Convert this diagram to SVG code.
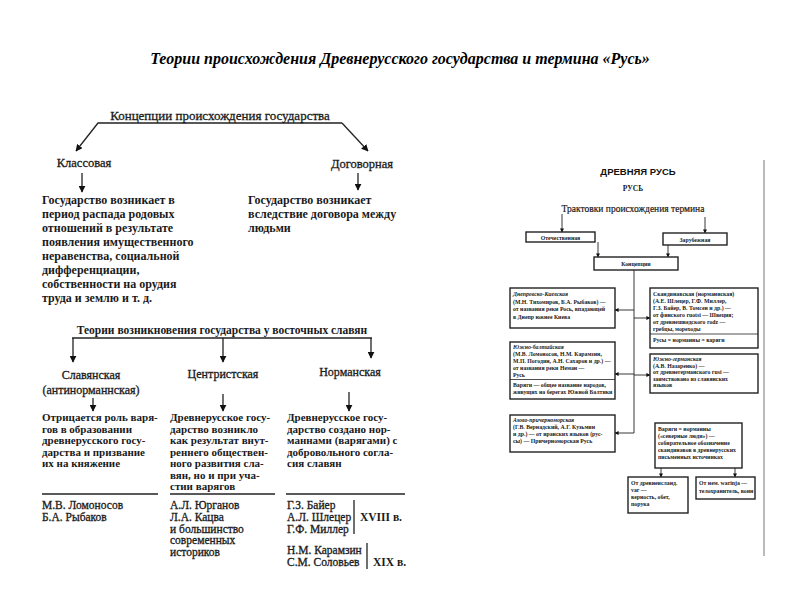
<svg xmlns="http://www.w3.org/2000/svg" width="800" height="600" viewBox="0 0 800 600">
<defs>
<marker id="ah" viewBox="0 0 10 10" refX="9" refY="5" markerWidth="7" markerHeight="7" orient="auto" markerUnits="userSpaceOnUse"><path d="M0,0 L10,5 L0,10 z" fill="#111"/></marker>
<marker id="ahs" viewBox="0 0 10 10" refX="9" refY="5" markerWidth="4" markerHeight="4" orient="auto" markerUnits="userSpaceOnUse"><path d="M0,0 L10,5 L0,10 z" fill="#111"/></marker>
<style>
.t{font-family:"Liberation Serif","DejaVu Serif",serif;fill:#1a1a1a}
.title{font-size:16px;font-weight:bold;font-style:italic;text-anchor:middle;fill:#000}
.h1{font-size:13px;stroke:#1a1a1a;stroke-width:0.3}
.h2{font-size:12.5px;stroke:#1a1a1a;stroke-width:0.3}
.b12{font-size:12px;font-weight:bold}
.b11{font-size:11px;font-weight:bold}
.r12{font-size:11.5px;stroke:#1a1a1a;stroke-width:0.3}
.c{text-anchor:middle}
.ln{stroke:#222;stroke-width:1.3;fill:none}
.lnA{stroke:#222;stroke-width:1.3;fill:none;marker-end:url(#ah)}
.bx{fill:#fff;stroke:#222;stroke-width:1.4}
.s{font-size:5.8px;font-weight:bold}
.si{font-size:5.8px;font-weight:bold;font-style:italic}
.lnS{stroke:#222;stroke-width:0.9;fill:none;marker-end:url(#ahs)}
.sans{font-family:"Liberation Sans",Arial,sans-serif;font-weight:bold;fill:#111}
</style>
</defs>
<rect width="800" height="600" fill="#fff"/>
<text class="t title" x="400" y="64">Теории происхождения Древнерусского государства и термина «Русь»</text>

<g id="connectors">
<path class="lnA" d="M342,123 L98,123 L76,151"/>
<path class="lnA" d="M342,123 L368,151"/>
<path class="lnA" d="M82,173 L82,192"/>
<path class="lnA" d="M358,173 L358,190"/>
<path class="ln" d="M72,338 L372,338"/>
<path class="lnA" d="M73,338 L73,362"/>
<path class="lnA" d="M223,338 L223,362"/>
<path class="lnA" d="M371,338 L371,358"/>
<path class="lnA" d="M93,398 L93,411"/>
<path class="lnA" d="M223,394 L223,411"/>
<path class="lnA" d="M349,392 L349,411"/>
<path class="lnS" d="M562,214 L562,232"/>
<path class="lnS" d="M705,217 L705,233"/>
<path class="lnS" d="M598,242 L598,257"/>
<path class="lnS" d="M668,245 L668,257"/>
<path class="ln" style="stroke-width:0.9" d="M634,270 L634,433"/>
<path class="lnS" d="M634,310 L615,310"/>
<path class="lnS" d="M634,374 L615,374"/>
<path class="lnS" d="M634,433 L615,433"/>
<path class="lnS" d="M634,318 L650,318"/>
<path class="lnS" d="M634,375 L650,375"/>
<path class="lnS" d="M661,468 L661,477"/>
<path class="lnS" d="M735,468 L735,477"/>
</g>

<g id="concepts">
<text class="t h1" x="220" y="120" text-anchor="middle">Концепции происхождения государства</text>
</g>
<g id="klass">
<text class="t h2" x="84" y="167" text-anchor="middle">Классовая</text>
<text class="t b12" x="42"><tspan x="42" y="204">Государство возникает в</tspan><tspan x="42" y="218">период распада родовых</tspan><tspan x="42" y="232">отношений в результате</tspan><tspan x="42" y="246">появления имущественного</tspan><tspan x="42" y="260">неравенства, социальной</tspan><tspan x="42" y="274">дифференциации,</tspan><tspan x="42" y="288">собственности на орудия</tspan><tspan x="42" y="302">труда и землю и т. д.</tspan></text>
</g>
<g id="dogovor">
<text class="t h2" x="362" y="168" text-anchor="middle">Договорная</text>
<text class="t b12"><tspan x="248" y="204">Государство возникает</tspan><tspan x="248" y="218">вследствие договора между</tspan><tspan x="248" y="232">людьми</tspan></text>
</g>

<g id="theories">
<text class="t b11" x="222" y="334" text-anchor="middle" style="font-size:11.5px">Теории возникновения государства у восточных славян</text>
</g>
<g id="slav">
<text class="t h2 c" x="91" y="379" style="font-size:12px">Славянская</text>
<text class="t h2 c" x="91" y="394" style="font-size:12px">(антинорманнская)</text>
<text class="t b11"><tspan x="42" y="421">Отрицается роль варя-</tspan><tspan x="42" y="432.5">гов в образовании</tspan><tspan x="42" y="444">древнерусского госу-</tspan><tspan x="42" y="455.5">дарства и призвание</tspan><tspan x="42" y="467">их на княжение</tspan></text>
<path class="ln" d="M42,494 L158,494"/>
<text class="t r12"><tspan x="42" y="509">М.В. Ломоносов</tspan><tspan x="42" y="521">Б.А. Рыбаков</tspan></text>
</g>
<g id="centr">
<text class="t h2 c" x="223" y="378" style="font-size:12px">Центристская</text>
<text class="t b11"><tspan x="170" y="421">Древнерусское госу-</tspan><tspan x="170" y="432.5">дарство возникло</tspan><tspan x="170" y="444">как результат внут-</tspan><tspan x="170" y="455.5">реннего обществен-</tspan><tspan x="170" y="467">ного развития сла-</tspan><tspan x="170" y="478.5">вян, но и при уча-</tspan><tspan x="170" y="490">стии варягов</tspan></text>
<path class="ln" d="M170,494 L275,494"/>
<text class="t r12"><tspan x="170" y="509">А.Л. Юрганов</tspan><tspan x="170" y="521">Л.А. Кацва</tspan><tspan x="170" y="532.5">и большинство</tspan><tspan x="170" y="544">современных</tspan><tspan x="170" y="555.5">историков</tspan></text>
</g>
<g id="norm">
<text class="t h2 c" x="350" y="376" style="font-size:12px">Норманская</text>
<text class="t b11"><tspan x="287" y="421">Древнерусское госу-</tspan><tspan x="287" y="432.5">дарство создано нор-</tspan><tspan x="287" y="444">маннами (варягами) с</tspan><tspan x="287" y="455.5">добровольного согла-</tspan><tspan x="287" y="467">сия славян</tspan></text>
<path class="ln" d="M286,494 L405,494"/>
<text class="t r12"><tspan x="287" y="509">Г.З. Байер</tspan><tspan x="287" y="521">А.Л. Шлецер</tspan><tspan x="287" y="532.5">Г.Ф. Миллер</tspan></text>
<path class="ln" d="M354,500 L354,534"/>
<text class="t b11" x="360" y="521" style="font-size:11.5px">XVIII в.</text>
<text class="t r12"><tspan x="287" y="554">Н.М. Карамзин</tspan><tspan x="287" y="566">С.М. Соловьев</tspan></text>
<path class="ln" d="M367,543 L367,569"/>
<text class="t b11" x="373" y="566" style="font-size:11.5px">XIX в.</text>
</g>

<path d="M764,160 L764,556" stroke="#bbb" stroke-width="2" fill="none"/>
<g id="rus-head">
<text class="sans" x="638" y="175" text-anchor="middle" style="font-size:9.5px">ДРЕВНЯЯ РУСЬ</text>
<text class="t" x="633" y="191" text-anchor="middle" style="font-size:7.5px;font-weight:bold">РУСЬ</text>
<text class="t" x="633" y="212" text-anchor="middle" style="font-size:9.5px;stroke:#1a1a1a;stroke-width:0.2">Трактовки происхождения термина</text>
</g>
<g id="otech">
<rect class="bx" x="526" y="232" width="69" height="10"/>
<text class="t s c" x="560.5" y="239.5">Отечественная</text>
</g>
<g id="zarub">
<rect class="bx" x="663" y="233" width="64" height="12"/>
<text class="t s c" x="695" y="241.5">Зарубежная</text>
</g>
<g id="konc">
<rect class="bx" x="594" y="257" width="84" height="13"/>
<text class="t s c" x="636" y="265.5">Концепции</text>
</g>
<g id="dnepr">
<rect class="bx" x="510" y="288" width="105" height="40"/>
<text class="t si" x="513" y="296">Днепровско-Киевская</text>
<text class="t s"><tspan x="513" y="303.5">(М.Н. Тихомиров, Б.А. Рыбаков) —</tspan><tspan x="513" y="311">от названия реки Рось, впадающей</tspan><tspan x="513" y="318.5">в Днепр южнее Киева</tspan></text>
</g>
<g id="yuzhbalt">
<rect class="bx" x="510" y="342" width="105" height="57"/>
<text class="t si" x="513" y="349">Южно-балтийская</text>
<text class="t s"><tspan x="513" y="356">(М.В. Ломоносов, Н.М. Карамзин,</tspan><tspan x="513" y="363">М.П. Погодин, А.Н. Сахаров и др.) —</tspan><tspan x="513" y="370">от названия реки Неман —</tspan><tspan x="513" y="377">Русь</tspan></text>
<path d="M510,379.5 L615,379.5" stroke="#222" stroke-width="0.8"/>
<text class="t s"><tspan x="513" y="387">Варяги — общее название народов,</tspan><tspan x="513" y="394">живущих на берегах Южной Балтики</tspan></text>
</g>
<g id="azov">
<rect class="bx" x="510" y="415" width="105" height="37"/>
<text class="t si" x="513" y="422">Азово-причерноморская</text>
<text class="t s"><tspan x="513" y="429">(Г.В. Вернадский, А.Г. Кузьмин</tspan><tspan x="513" y="436">и др.) — от иранских языков (рус-</tspan><tspan x="513" y="443">сы) — Причерноморская Русь</tspan></text>
</g>
<g id="skand">
<rect class="bx" x="650" y="288" width="108" height="60"/>
<text class="t s"><tspan x="653" y="296">Скандинавская (норманнская)</tspan><tspan x="653" y="303">(А.Е. Шлецер, Г.Ф. Миллер,</tspan><tspan x="653" y="310">Г.З. Байер, В. Томсен и др.) —</tspan><tspan x="653" y="317">от финского ruotsi — Швеция;</tspan><tspan x="653" y="324">от древнешведского rodz —</tspan><tspan x="653" y="331">гребцы, мореходы</tspan></text>
<path d="M650,334 L758,334" stroke="#222" stroke-width="0.8"/>
<text class="t s" x="653" y="342">Русы = норманны = варяги</text>
</g>
<g id="yuzhgerm">
<rect class="bx" x="650" y="354" width="108" height="39"/>
<text class="t si" x="653" y="361">Южно-германская</text>
<text class="t s"><tspan x="653" y="367.5">(А.В. Назаренко) —</tspan><tspan x="653" y="374">от древнегерманского rusi —</tspan><tspan x="653" y="380.5">заимствовано из славянских</tspan><tspan x="653" y="387">языков</tspan></text>
</g>
<g id="varyagi">
<rect class="bx" x="655" y="423" width="87" height="45"/>
<text class="t s"><tspan x="658" y="431">Варяги = норманны</tspan><tspan x="658" y="438">(«северные люди») —</tspan><tspan x="658" y="445">собирательное обозначение</tspan><tspan x="658" y="452">скандинавов в древнерусских</tspan><tspan x="658" y="459">письменных источниках</tspan></text>
</g>
<g id="var">
<rect class="bx" x="628" y="477" width="60" height="36"/>
<text class="t s"><tspan x="631" y="485">От древнеисланд.</tspan><tspan x="631" y="492">var —</tspan><tspan x="631" y="499">верность, обет,</tspan><tspan x="631" y="506">порука</tspan></text>
</g>
<g id="warinja">
<rect class="bx" x="696" y="477" width="59" height="22"/>
<text class="t s"><tspan x="699" y="485">От нем. warinja —</tspan><tspan x="699" y="493">телохранитель, воин</tspan></text>
</g>
</svg>
